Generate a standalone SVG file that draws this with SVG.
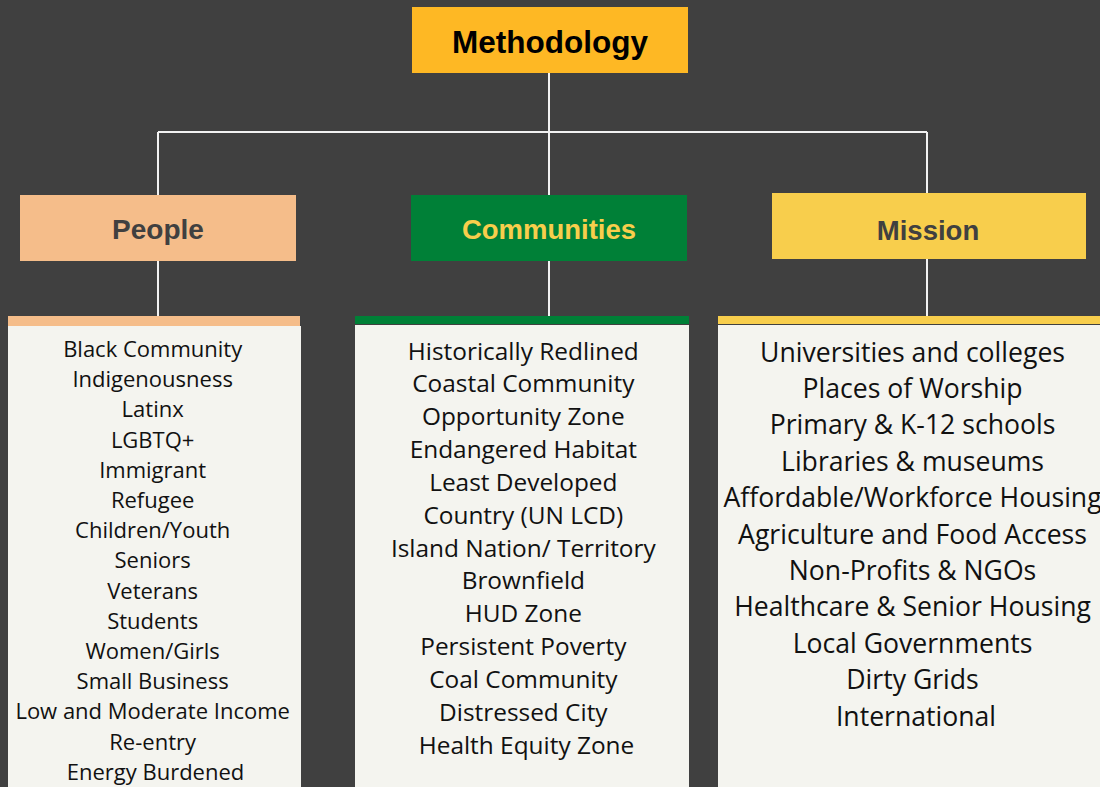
<svg xmlns="http://www.w3.org/2000/svg" width="1100" height="787" viewBox="0 0 1100 787">
<style>
.hd{font-family:"Liberation Sans",Arial,sans-serif;font-weight:bold;text-anchor:middle}
.li{font-family:"Open Sans","DejaVu Sans",sans-serif;fill:#111;text-anchor:middle}
.conn{stroke:#f2f2f2;stroke-width:2;fill:none}
</style>
<rect width="1100" height="787" fill="#404040"/>
<g id="connectors">
<path class="conn" d="M549 73V132M158 132H927M158 132V195M549 132V195M927 132V193M158 261V316M549 261V316M927 259V316"/>
</g>
<g id="methodology">
<rect x="412" y="7" width="276" height="66" fill="#FEB824"/>
<text class="hd" x="550" y="53" font-size="31.5" fill="#000">Methodology</text>
</g>
<g id="people">
<rect x="20" y="195" width="276" height="66" fill="#F5BD8A"/>
<text class="hd" x="158" y="239" font-size="28" fill="#404040">People</text>
</g>
<g id="communities">
<rect x="411" y="195" width="276" height="66" fill="#008037"/>
<text class="hd" x="549" y="239" font-size="27.5" fill="#F8CE4C">Communities</text>
</g>
<g id="mission">
<rect x="772" y="193" width="314" height="66" fill="#F8CE4C"/>
<text class="hd" x="928" y="240" font-size="27.5" fill="#404040">Mission</text>
</g>
<g id="people-list">
<rect x="8" y="326" width="293" height="461" fill="#F4F4EF"/>
<rect x="8" y="316" width="292" height="10" fill="#F5BD8A"/>
<text class="li" font-size="22">
<tspan x="155.5" y="357">Black Community</tspan>
<tspan x="155.5" y="387.2">Indigenousness</tspan>
<tspan x="155.5" y="417.4">Latinx</tspan>
<tspan x="155.5" y="447.6">LGBTQ+</tspan>
<tspan x="155.5" y="477.8">Immigrant</tspan>
<tspan x="155.5" y="508">Refugee</tspan>
<tspan x="155.5" y="538.2">Children/Youth</tspan>
<tspan x="155.5" y="568.4">Seniors</tspan>
<tspan x="155.5" y="598.6">Veterans</tspan>
<tspan x="155.5" y="628.8">Students</tspan>
<tspan x="155.5" y="659">Women/Girls</tspan>
<tspan x="155.5" y="689.2">Small Business</tspan>
<tspan x="155.5" y="719.4">Low and Moderate Income</tspan>
<tspan x="155.5" y="749.6">Re-entry</tspan>
<tspan x="155.5" y="779.8">Energy Burdened</tspan>
</text>
</g>
<g id="communities-list">
<rect x="355" y="325" width="334" height="462" fill="#F4F4EF"/>
<rect x="355" y="316" width="334" height="8" fill="#008037"/>
<text class="li" font-size="24.4">
<tspan x="526.5" y="359.5">Historically Redlined</tspan>
<tspan x="526.5" y="392.3">Coastal Community</tspan>
<tspan x="526.5" y="425.2">Opportunity Zone</tspan>
<tspan x="526.5" y="458">Endangered Habitat</tspan>
<tspan x="526.5" y="490.8">Least Developed</tspan>
<tspan x="526.5" y="523.7">Country (UN LCD)</tspan>
<tspan x="526.5" y="556.5">Island Nation/ Territory</tspan>
<tspan x="526.5" y="589.3">Brownfield</tspan>
<tspan x="526.5" y="622.1">HUD Zone</tspan>
<tspan x="526.5" y="655">Persistent Poverty</tspan>
<tspan x="526.5" y="687.8">Coal Community</tspan>
<tspan x="526.5" y="720.6">Distressed City</tspan>
<tspan x="526.5" y="753.5">Health Equity Zone</tspan>
</text>
</g>
<g id="mission-list">
<rect x="718" y="325" width="382" height="462" fill="#F4F4EF"/>
<rect x="718" y="316" width="382" height="8" fill="#F8CE4C"/>
<rect x="718" y="324" width="382" height="1" fill="#404040"/>
<text class="li" font-size="26.6">
<tspan x="916" y="361.5">Universities and colleges</tspan>
<tspan x="916" y="397.9">Places of Worship</tspan>
<tspan x="916" y="434.3">Primary &amp; K-12 schools</tspan>
<tspan x="916" y="470.7">Libraries &amp; museums</tspan>
<tspan x="916" y="507.1">Affordable/Workforce Housing</tspan>
<tspan x="916" y="543.5">Agriculture and Food Access</tspan>
<tspan x="916" y="579.9">Non-Profits &amp; NGOs</tspan>
<tspan x="916" y="616.3">Healthcare &amp; Senior Housing</tspan>
<tspan x="916" y="652.7">Local Governments</tspan>
<tspan x="916" y="689.1">Dirty Grids</tspan>
<tspan x="916" y="725.5">International</tspan>
</text>
</g>
</svg>
